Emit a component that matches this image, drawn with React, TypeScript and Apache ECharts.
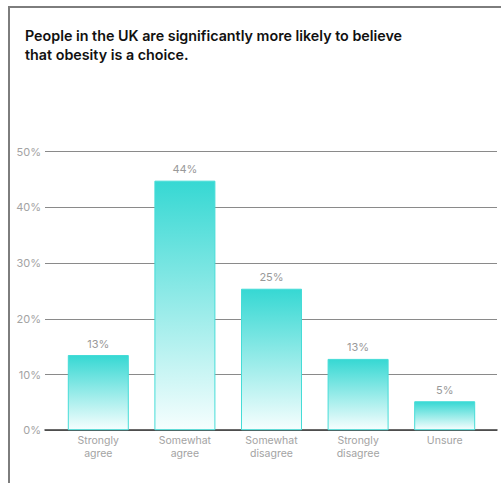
import React, { useEffect, useRef } from "react";
import * as echarts from "echarts";

const titleLines = [
  "People in the UK are significantly more likely to believe",
  "that obesity is a choice.",
];
const categories = ["Strongly\nagree", "Somewhat\nagree", "Somewhat\ndisagree", "Strongly\ndisagree", "Unsure"];
const values = [13.5, 44.8, 25.4, 12.8, 5.2];
const valueLabels = ["13%", "44%", "25%", "13%", "5%"];
const yMin = 0;
const yMax = 50;
const yInterval = 10;

export default function App() {
  const ref = useRef<HTMLDivElement>(null);
  useEffect(() => {
    if (!ref.current) return;
    const chart = echarts.init(ref.current, undefined, { renderer: "svg" });
    const font = "Inter, 'Noto Sans', sans-serif";
    chart.setOption({
      animation: false,
      backgroundColor: "#ffffff",
      title: {
        text: titleLines.join("\n"),
        left: 20,
        top: 21,
        textStyle: {
          fontFamily: font,
          fontSize: 14.3,
          fontWeight: 600,
          lineHeight: 19,
          color: "#111111",
        },
      },
      graphic: [
        { type: "line", shape: { x1: 8, y1: 7, x2: 501, y2: 7 }, style: { stroke: "#7d7d7d", lineWidth: 2 } },
        { type: "line", shape: { x1: 9, y1: 6, x2: 9, y2: 483 }, style: { stroke: "#7d7d7d", lineWidth: 2 } },
      ],
      grid: [
        { left: 55, right: 13, top: 151.7, bottom: 52.8 },
        { left: 45, right: 4, top: 151.7, bottom: 52.8 },
      ],
      xAxis: [
        {
          type: "category",
          gridIndex: 0,
          data: categories,
          axisLine: { show: false },
          axisTick: { show: false },
          axisLabel: {
            fontFamily: font,
            fontSize: 10.5,
            color: "#a3a3a3",
            lineHeight: 13,
            margin: 4,
            interval: 0,
          },
        },
        {
          type: "category",
          gridIndex: 1,
          data: categories,
          axisLine: { show: true, lineStyle: { color: "#3a3a3a", width: 1.5 } },
          axisTick: { show: false },
          axisLabel: { show: false },
        },
      ],
      yAxis: [
        {
          type: "value",
          gridIndex: 0,
          min: yMin,
          max: yMax,
          interval: yInterval,
          show: false,
          splitLine: { show: false },
        },
        {
          type: "value",
          gridIndex: 1,
          min: yMin,
          max: yMax,
          interval: yInterval,
          axisLine: { show: false },
          axisTick: { show: false },
          axisLabel: {
            formatter: "{value}%",
            fontFamily: font,
            fontSize: 11,
            color: "#a3a3a3",
            margin: 4,
          },
          splitLine: { show: true, lineStyle: { color: "#8a8a8a", width: 1 } },
        },
      ],
      series: [
        {
          type: "bar",
          xAxisIndex: 0,
          yAxisIndex: 0,
          data: values,
          barWidth: 61,
          z: 5,
          itemStyle: {
            color: new echarts.graphic.LinearGradient(0, 0, 0, 1, [
              { offset: 0, color: "#36d8d3" },
              { offset: 1, color: "#f6fefe" },
            ]),
            borderColor: "#45dcd7",
            borderWidth: 1,
          },
          label: {
            show: true,
            position: "top",
            distance: 6,
            formatter: (p: any) => valueLabels[p.dataIndex],
            fontFamily: font,
            fontSize: 11,
            color: "#999999",
          },
        },
      ],
    });
    return () => chart.dispose();
  }, []);
  return (
    <div
      ref={ref}
      style={{ position: "fixed", left: 0, top: 0, width: 501, height: 483 }}
    />
  );
}
